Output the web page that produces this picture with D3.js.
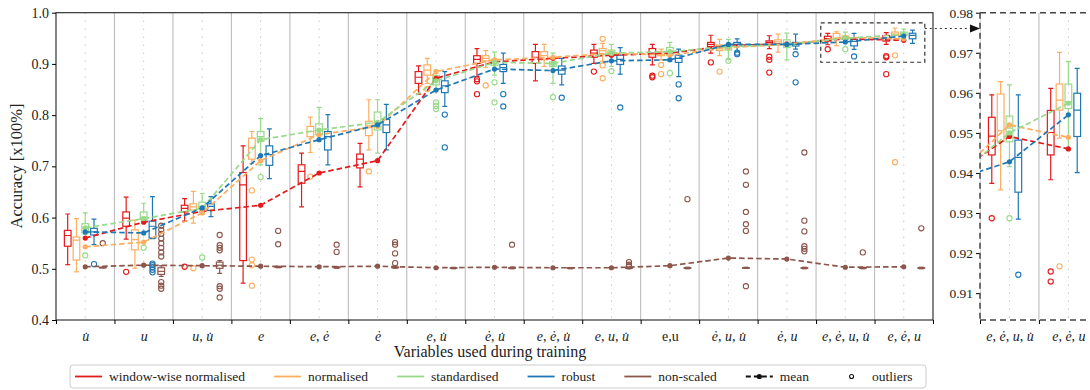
<!DOCTYPE html>
<html>
<head>
<meta charset="utf-8">
<script src="https://cdn.jsdelivr.net/npm/d3@7"></script>
<style>
  body { margin: 0; background: #fff; }
  svg { font-family: "Liberation Serif", "Times New Roman", serif; }
</style>
</head>
<body>
<svg width="1090" height="390"></svg>
<script>
// categories on the x axis (variables used during training)
const categories = ["u\u0307", "u", "u, u\u0307", "e", "e, e\u0307", "e\u0307", "e, u\u0307", "e\u0307, u\u0307",
  "e, e\u0307, u\u0307", "e, u, u\u0307", "e,u", "e\u0307, u, u\u0307", "e\u0307, u", "e, e\u0307, u, u\u0307", "e, e\u0307, u"];

const seriesNames = ["window-wise normalised", "normalised", "standardised", "robust", "non-scaled"];
const colors = ["#e31a1c", "#fdae61", "#98d98a", "#1f78b4", "#8c564b"];

const yTicksMain = [0.4, 0.5, 0.6, 0.7, 0.8, 0.9, 1.0];
const yTicksInset = [0.91, 0.92, 0.93, 0.94, 0.95, 0.96, 0.97, 0.98];

// box stats per category: [whisker low, q1, median, q3, whisker high]
const redBox = [[0.508,0.544,0.565,0.575,0.607],[0.558,0.583,0.599,0.611,0.640],[0.593,0.611,0.618,0.624,0.637],
  [0.472,0.516,0.664,0.688,0.740],[0.621,0.667,0.690,0.703,0.726],[0.660,0.697,0.714,0.724,0.745],
  [0.841,0.862,0.874,0.885,0.896],[0.875,0.901,0.909,0.916,0.930],[0.867,0.901,0.913,0.924,0.938],
  [0.901,0.913,0.921,0.927,0.938],[0.898,0.913,0.921,0.930,0.938],[0.921,0.934,0.938,0.942,0.956],
  [0.930,0.938,0.942,0.945,0.955],[0.9374,0.9445,0.9492,0.9539,0.9595],[0.9383,0.9445,0.9501,0.9556,0.9611]];
const redOut = [[],[0.494],[0.504],[],[],[],[],[0.870,0.866,0.841],[],[0.885],[0.877,0.874],[0.903],
  [0.914,0.908,0.883],[0.9287],[0.9154,0.9129,0.880]];
const redMean = [0.560,0.591,0.612,0.624,0.687,0.711,0.872,0.904,0.911,0.917,0.921,0.936,0.939,0.9491,0.9460];

const orangeBox = [[0.494,0.517,0.556,0.562,0.598],[0.501,0.537,0.557,0.576,0.595],[0.589,0.615,0.621,0.627,0.651],
  [0.706,0.714,0.736,0.755,0.768],[0.727,0.758,0.768,0.778,0.796],[0.732,0.760,0.779,0.788,0.830],
  [0.862,0.878,0.888,0.898,0.911],[0.893,0.906,0.911,0.916,0.926],[0.895,0.908,0.916,0.924,0.938],
  [0.905,0.919,0.926,0.930,0.940],[0.908,0.916,0.919,0.924,0.929],[0.916,0.926,0.932,0.937,0.948],
  [0.923,0.938,0.943,0.947,0.958],[0.9358,0.9478,0.9505,0.9597,0.9628],[0.9487,0.9557,0.9582,0.9622,0.9701]];
const orangeOut = [[],[],[0.501],[0.653,0.518,0.507,0.467],[0.680],[0.690],[0.851],[0.858],[],[0.949,0.897,0.872],
  [0.898,0.880],[0.885],[],[],[0.9167,0.708]];
const orangeMean = [0.543,0.552,0.609,0.711,0.762,0.778,0.885,0.908,0.913,0.921,0.917,0.932,0.938,0.952,0.9489];

const greenBox = [[0.567,0.570,0.579,0.588,0.609],[0.593,0.596,0.601,0.611,0.628],[0.606,0.617,0.622,0.630,0.647],
  [0.703,0.749,0.758,0.768,0.793],[0.749,0.762,0.771,0.783,0.815],[0.726,0.771,0.788,0.806,0.830],
  [0.850,0.859,0.869,0.877,0.888],[0.878,0.897,0.904,0.909,0.923],[0.862,0.895,0.900,0.904,0.921],
  [0.895,0.916,0.922,0.927,0.938],[0.905,0.917,0.924,0.932,0.942],[0.909,0.927,0.932,0.937,0.948],
  [0.908,0.932,0.940,0.947,0.960],[0.9416,0.9478,0.9512,0.9542,0.9620],[0.9458,0.9561,0.9578,0.9622,0.9678]];
const greenOut = [[0.526],[0.541],[0.522],[0.679],[],[],[0.825,0.818,0.812],[0.864,0.825],[0.835],[0.886],[0.882],
  [0.906],[],[0.9287],[]];
const greenMean = [0.580,0.598,0.618,0.752,0.771,0.786,0.867,0.903,0.901,0.921,0.924,0.934,0.938,0.9500,0.9574];

const blueBox = [[0.547,0.566,0.572,0.579,0.597],[0.559,0.560,0.583,0.593,0.641],[0.602,0.614,0.622,0.627,0.641],
  [0.676,0.702,0.723,0.740,0.773],[0.703,0.732,0.758,0.768,0.801],[0.732,0.766,0.781,0.792,0.821],
  [0.817,0.844,0.857,0.867,0.885],[0.862,0.885,0.893,0.899,0.921],[0.859,0.880,0.888,0.896,0.911],
  [0.880,0.899,0.909,0.917,0.932],[0.875,0.903,0.911,0.917,0.929],[0.924,0.934,0.938,0.942,0.949],
  [0.929,0.935,0.938,0.942,0.958],[0.9285,0.9352,0.9439,0.9482,0.9595],[0.9401,0.9491,0.9557,0.9599,0.9661]];
const blueOut = [[0.509],[0.510,0.507,0.503,0.498,0.493],[],[],[],[],[0.801,0.737],[0.841,0.817],[0.834],[0.815],
  [0.860,0.833],[0.922,0.919],[0.919,0.864],[0.9146],[]];
const blueMean = [0.572,0.570,0.619,0.721,0.752,0.781,0.849,0.890,0.887,0.906,0.908,0.938,0.938,0.9428,0.9545];

const brownBox = [[0.502,0.502,0.502,0.503,0.503],[0.485,0.489,0.495,0.502,0.506],[0.491,0.501,0.507,0.513,0.516],
  [0.502,0.503,0.503,0.504,0.505],[0.501,0.502,0.503,0.503,0.504],[0.501,0.502,0.503,0.503,0.505],
  [0.500,0.501,0.501,0.502,0.502],[0.500,0.501,0.502,0.502,0.503],[0.500,0.501,0.501,0.502,0.502],
  [0.500,0.501,0.501,0.502,0.503],[0.500,0.501,0.502,0.502,0.503],[0.501,0.502,0.502,0.502,0.503],
  [0.500,0.501,0.502,0.502,0.503],[0.500,0.501,0.502,0.502,0.503],[0.500,0.501,0.502,0.502,0.503]];
const brownOut = [[0.550],[0.584,0.576,0.568,0.559,0.550,0.541,0.532,0.524,0.474,0.467,0.461],
  [0.566,0.546,0.541,0.536,0.466,0.461,0.444],[0.574,0.548],[0.547,0.533],[0.552,0.547,0.530,0.511],[],[0.547],[],
  [0.513,0.508,0.505],[0.636],[0.690,0.664,0.611,0.587,0.574,0.466],[0.727,0.594,0.573,0.544,0.539,0.534],[0.532],[0.579]];
const brownMean = [0.504,0.507,0.506,0.505,0.504,0.505,0.502,0.503,0.502,0.502,0.506,0.521,0.519,0.503,0.504];

const boxes = [redBox, orangeBox, greenBox, blueBox, brownBox];
const outliers = [redOut, orangeOut, greenOut, blueOut, brownOut];
const means = [redMean, orangeMean, greenMean, blueMean, brownMean];

const svg = d3.select("svg");

const xMain = d3.scaleLinear().domain([0, 15]).range([56, 933]);
const yMain = d3.scaleLinear().domain([0.4, 1.0]).range([320, 12.7]);
const xIn = d3.scaleLinear().domain([13.0, 14.85]).range([980, 1089]);
const yIn = d3.scaleLinear().domain([0.9033, 0.98]).range([320, 12.7]);

const step = 0.15, halfW = 0.057, capW = 0.042;

// italic letters, upright commas (like LaTeX math)
function labelText(sel) {
  sel.each(function(d) {
    const t = d3.select(this).text(null);
    const lab = categories[d];
    if (!lab.includes(", ")) {
      t.append("tspan").attr("font-style", lab.length > 2 ? "normal" : "italic").text(lab);
      return;
    }
    lab.split(", ").forEach((p, i) => {
      if (i > 0) t.append("tspan").attr("font-style", "normal").text(", ");
      t.append("tspan").attr("font-style", "italic").text(p);
    });
  });
}

function drawPanel(g, x, y, cats) {
  const top = y.range()[1], bottom = y.range()[0];
  // grid
  g.selectAll(".sep").data(d3.range(1, 15)).join("line")
    .attr("x1", d => x(d)).attr("x2", d => x(d)).attr("y1", top).attr("y2", bottom)
    .attr("stroke", "#bdbdbd").attr("stroke-width", 1.1);
  g.selectAll(".ctr").data(d3.range(15)).join("line")
    .attr("x1", d => x(d + 0.5)).attr("x2", d => x(d + 0.5)).attr("y1", top).attr("y2", bottom)
    .attr("stroke", "#aaa").attr("stroke-width", 1).attr("stroke-dasharray", "1,7");

  boxes.forEach((sb, k) => {
    const off = (k - 2) * step;
    const gs = g.append("g").attr("stroke", colors[k]).attr("fill", "none").attr("stroke-width", 1.2);
    cats.forEach(c => {
      const [lo, q1, md, q3, hi] = sb[c];
      const cx = c + 0.5 + off;
      gs.append("line").attr("x1", x(cx)).attr("x2", x(cx)).attr("y1", y(hi)).attr("y2", y(q3));
      gs.append("line").attr("x1", x(cx)).attr("x2", x(cx)).attr("y1", y(q1)).attr("y2", y(lo));
      gs.append("line").attr("x1", x(cx - capW)).attr("x2", x(cx + capW)).attr("y1", y(hi)).attr("y2", y(hi));
      gs.append("line").attr("x1", x(cx - capW)).attr("x2", x(cx + capW)).attr("y1", y(lo)).attr("y2", y(lo));
      gs.append("rect").attr("x", x(cx - halfW)).attr("width", x(cx + halfW) - x(cx - halfW))
        .attr("y", y(q3)).attr("height", Math.max(0.5, y(q1) - y(q3)));
      gs.append("line").attr("x1", x(cx - halfW)).attr("x2", x(cx + halfW)).attr("y1", y(md)).attr("y2", y(md));
      outliers[k][c].forEach(v => {
        gs.append("circle").attr("cx", x(cx)).attr("cy", y(v)).attr("r", 2.6).attr("stroke-width", 1.1);
      });
    });
  });

  means.forEach((m, k) => {
    const pts = m.map((v, i) => [i + 0.5, v]);
    g.append("path").datum(pts)
      .attr("d", d3.line().x(d => x(d[0])).y(d => y(d[1])))
      .attr("fill", "none").attr("stroke", colors[k]).attr("stroke-width", 1.7)
      .attr("stroke-dasharray", "5.5,3");
    g.selectAll(".m" + k).data(pts).join("circle")
      .attr("cx", d => x(d[0])).attr("cy", d => y(d[1])).attr("r", 2.6).attr("fill", colors[k]);
  });
}

// ---- main panel
const main = svg.append("g");
svg.append("defs").append("clipPath").attr("id", "mainClip").append("rect")
  .attr("x", 56).attr("y", 12.7).attr("width", 877).attr("height", 307.3);
drawPanel(main.append("g").attr("clip-path", "url(#mainClip)"), xMain, yMain, d3.range(15));

main.append("rect").attr("x", 56).attr("y", 12.7).attr("width", 877).attr("height", 307.3)
  .attr("fill", "none").attr("stroke", "#222").attr("stroke-width", 1.1);

main.append("g").attr("transform", "translate(56,0)")
  .call(d3.axisLeft(yMain).tickValues(yTicksMain).tickFormat(d3.format(".1f")).tickSize(4).tickPadding(3))
  .call(a => a.select(".domain").remove())
  .call(a => a.selectAll("text").attr("font-size", 14).attr("font-family", "Liberation Serif").attr("fill", "#222"));

main.append("g").attr("transform", "translate(0,320)")
  .call(d3.axisBottom(xMain).tickValues(d3.range(0, 16)).tickFormat("").tickSize(4))
  .call(a => a.select(".domain").remove());

main.append("g").attr("transform", "translate(0,320)")
  .call(d3.axisBottom(xMain).tickValues(d3.range(15).map(d => d + 0.5)).tickSize(0).tickPadding(11))
  .call(a => a.select(".domain").remove())
  .call(a => a.selectAll("text").attr("font-size", 14).attr("font-family", "Liberation Serif").attr("fill", "#222")
    .each(function(d) { d3.select(this).datum(Math.floor(d)); }).call(labelText));

svg.append("text").attr("x", 490).attr("y", 357).attr("text-anchor", "middle")
  .attr("font-size", 16).attr("fill", "#222").text("Variables used during training");
svg.append("text").attr("transform", "translate(22,166) rotate(-90)").attr("text-anchor", "middle")
  .attr("font-size", 16.5).attr("fill", "#222").text("Accuracy [x100%]");

// zoom rectangle on main panel and arrow
main.append("rect").attr("x", xMain(13.08)).attr("y", yMain(0.98))
  .attr("width", xMain(14.86) - xMain(13.08)).attr("height", yMain(0.9033) - yMain(0.98))
  .attr("fill", "none").attr("stroke", "#333").attr("stroke-width", 1.2).attr("stroke-dasharray", "4,3");
svg.append("line").attr("x1", xMain(14.86)).attr("x2", 972).attr("y1", 28.5).attr("y2", 28.5)
  .attr("stroke", "#333").attr("stroke-width", 1.2).attr("stroke-dasharray", "2,3");
svg.append("path").attr("d", "M970,24.5 L980,28.5 L970,32.5 Z").attr("fill", "#111");

// ---- inset panel
svg.select("defs").append("clipPath").attr("id", "inClip").append("rect")
  .attr("x", 980).attr("y", 12.7).attr("width", 110).attr("height", 307.3);
const inset = svg.append("g");
drawPanel(inset.append("g").attr("clip-path", "url(#inClip)"), xIn, yIn, [13, 14]);

inset.append("g").attr("transform", "translate(980,0)")
  .call(d3.axisLeft(yIn).tickValues(yTicksInset).tickFormat(d3.format(".2f")).tickSize(4).tickPadding(3))
  .call(a => a.select(".domain").remove())
  .call(a => a.selectAll("text").attr("font-size", 13.5).attr("font-family", "Liberation Serif").attr("fill", "#222"));
inset.append("g").attr("transform", "translate(0,320)")
  .call(d3.axisBottom(xIn).tickValues([13, 14]).tickFormat("").tickSize(4))
  .call(a => a.select(".domain").remove());
inset.append("g").attr("transform", "translate(0,320)")
  .call(d3.axisBottom(xIn).tickValues([13.5, 14.5]).tickSize(0).tickPadding(11))
  .call(a => a.select(".domain").remove())
  .call(a => a.selectAll("text").attr("font-size", 14).attr("font-family", "Liberation Serif").attr("fill", "#222")
    .each(function(d) { d3.select(this).datum(Math.floor(d)); }).call(labelText));

const frame = inset.append("g").attr("stroke", "#444").attr("stroke-width", 1.5).attr("stroke-dasharray", "6,4");
frame.append("line").attr("x1", 980).attr("x2", 980).attr("y1", 12.7).attr("y2", 320);
frame.append("line").attr("x1", 980).attr("x2", 1090).attr("y1", 12.7).attr("y2", 12.7);
frame.append("line").attr("x1", 980).attr("x2", 1090).attr("y1", 320).attr("y2", 320);

// ---- legend
const leg = svg.append("g");
leg.append("rect").attr("x", 70).attr("y", 365).attr("width", 856).attr("height", 23).attr("rx", 3)
  .attr("fill", "#fff").attr("stroke", "#ccc");
const legItems = seriesNames.map((n, k) => ({ name: n, kind: "line", color: colors[k] }))
  .concat([{ name: "mean", kind: "mean", color: "#111" }, { name: "outliers", kind: "out", color: "#111" }]);
let lx = 75;
legItems.forEach(it => {
  const g = leg.append("g");
  if (it.kind === "line") {
    g.append("line").attr("x1", lx).attr("x2", lx + 27).attr("y1", 376.5).attr("y2", 376.5)
      .attr("stroke", it.color).attr("stroke-width", 1.8);
  } else if (it.kind === "mean") {
    g.append("line").attr("x1", lx).attr("x2", lx + 27).attr("y1", 376.5).attr("y2", 376.5)
      .attr("stroke", it.color).attr("stroke-width", 1.8).attr("stroke-dasharray", "5,3");
    g.append("circle").attr("cx", lx + 13.5).attr("cy", 376.5).attr("r", 2.6).attr("fill", it.color);
  } else {
    g.append("circle").attr("cx", lx + 13.5).attr("cy", 376.5).attr("r", 2).attr("fill", "none")
      .attr("stroke", it.color).attr("stroke-width", 1.1);
  }
  const t = g.append("text").attr("x", lx + 34).attr("y", 381).attr("font-size", 13.5).attr("fill", "#222").text(it.name);
  lx += 34 + t.node().getComputedTextLength() + 29;
});
</script>
</body>
</html>
